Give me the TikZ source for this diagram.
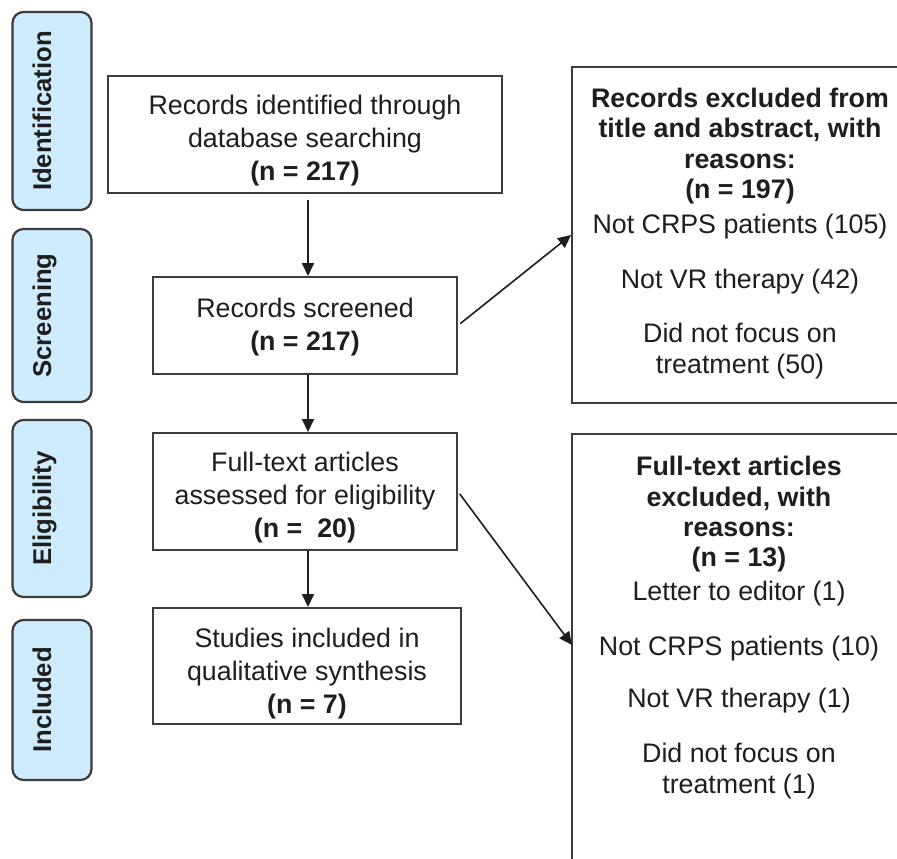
\documentclass[tikz,border=0pt]{standalone}
\usepackage{fontspec}
\setmainfont{Liberation Sans}
\usetikzlibrary{arrows.meta}
\definecolor{sideblue}{RGB}{206,236,254}
\definecolor{edgegray}{RGB}{60,60,60}
\definecolor{txtgray}{RGB}{30,30,30}
\tikzset{
  mainbox/.style={draw=edgegray, line width=1.9pt, fill=white, inner sep=0pt},
  maintxt/.style={align=center, inner sep=0pt, text=txtgray, font=\fontsize{26.8}{33}\selectfont},
  exbox/.style={draw=edgegray, line width=1.9pt, inner sep=0pt},
  extxt/.style={align=center, inner sep=0pt, text=txtgray, font=\fontsize{26.8}{31}\selectfont},
  exbold/.style={extxt, font=\fontsize{26.8}{30.3}\selectfont\bfseries},
  sidebox/.style={draw=edgegray, line width=2.2pt, fill=sideblue, rounded corners=11pt,
    minimum width=79pt, inner sep=0pt},
  sidetxt/.style={rotate=90, inner sep=0pt, text=txtgray, font=\fontsize{25.7}{30}\selectfont\bfseries},
  arr/.style={draw=txtgray, line width=1.6pt, -{Triangle[length=13pt,width=12pt]}},
}
\begin{document}
\begin{tikzpicture}[x=1pt,y=-1pt]
\useasboundingbox (0,0) rectangle (897,859);
\clip (0,0) rectangle (897,859);
\fill[white] (0,0) rectangle (897,859);

% phase labels
\node[sidebox, minimum height=198pt] (s1) at (52,111) {};
\node[sidetxt, anchor=base] (s1t) at (51,111) {Identification};
\node[sidebox, minimum height=173pt] (s2) at (52,315.5) {};
\node[sidetxt, anchor=base] (s2t) at (51,315.5) {Screening};
\node[sidebox, minimum height=177pt] (s3) at (52,508.5) {};
\node[sidetxt, anchor=base] (s3t) at (51,508.5) {Eligibility};
\node[sidebox, minimum height=160pt] (s4) at (52,700) {};
\node[sidetxt, anchor=base] (s4t) at (51,700) {Included};

% main flow
\node[mainbox, minimum width=394pt, minimum height=117pt] (b1) at (305,134.5) {};
\node[maintxt] (t1) at (305,141) {Records identified through\\database searching\\\textbf{(n = 217)}};
\node[mainbox, minimum width=304pt, minimum height=97pt] (b2) at (305,325.5) {};
\node[maintxt] (t2) at (305,327) {Records screened\\\textbf{(n = 217)}};
\node[mainbox, minimum width=304pt, minimum height=117pt] (b3) at (305,491.5) {};
\node[maintxt] (t3) at (305,497.5) {Full-text articles\\assessed for eligibility\\\textbf{(n =\ \ 20)}};
\node[mainbox, minimum width=308pt, minimum height=116pt] (b4) at (307,666) {};
\node[maintxt] (t4) at (307,674) {Studies included in\\qualitative synthesis\\\textbf{(n = 7)}};

% exclusion boxes
\node[exbox, minimum width=340pt, minimum height=336pt] (x1) at (742,235) {};
\node[exbold] (x1h) at (740,146) {Records excluded from\\title and abstract, with\\reasons:\\(n = 197)};
\node[extxt] (x1a) at (740,227) {Not CRPS patients (105)};
\node[extxt] (x1b) at (740,282) {Not VR therapy (42)};
\node[extxt] (x1c) at (740,351) {Did not focus on\\treatment (50)};

\node[exbox, minimum width=340pt, minimum height=480pt] (x2) at (742,674) {};
\node[exbold] (x2h) at (739,514.5) {Full-text articles\\excluded, with\\reasons:\\(n = 13)};
\node[extxt] (x2a) at (739,593.5) {Letter to editor (1)};
\node[extxt] (x2b) at (739,649) {Not CRPS patients (10)};
\node[extxt] (x2c) at (739,701) {Not VR therapy (1)};
\node[extxt] (x2d) at (739,771.5) {Did not focus on\\treatment (1)};
\coordinate (c2) at (572,645);

% connectors
\draw[arr, shorten <=6pt] (b1.south -| 308,0) -- (b2.north -| 308,0);
\draw[arr] (b2.south -| 308,0) -- (b3.north -| 308,0);
\draw[arr] (b3.south -| 308,0) -- (b4.north -| 308,0);
\draw[arr, shorten <=3pt] (b2.east) -- (x1.west);
\draw[arr, shorten <=3pt] (b3.east) -- (c2);
\end{tikzpicture}
\end{document}
